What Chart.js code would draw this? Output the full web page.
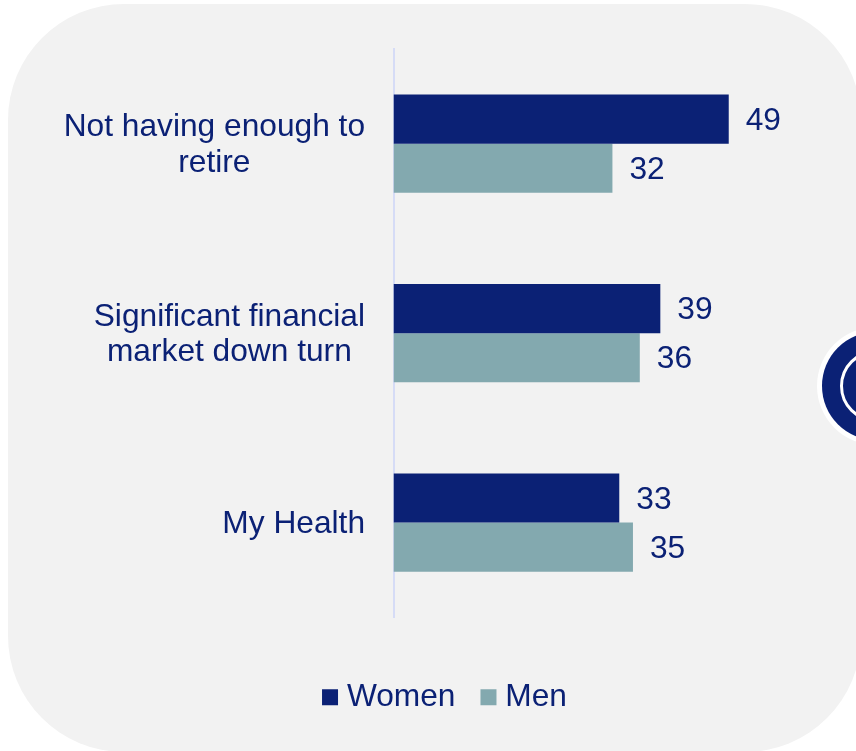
<!DOCTYPE html>
<html>
<head>
<meta charset="utf-8">
<style>
  html, body { margin: 0; padding: 0; background: #fff; overflow: hidden; width: 856px; height: 751px; }
  .card { position: absolute; left: 8px; top: 4px; width: 853px; height: 748px; background: #f2f2f2; border-radius: 116px; }
  .badge { position: absolute; left: 822px; top: 332px; width: 108px; height: 108px; box-sizing: border-box; border-radius: 50%; background: #0b2175; box-shadow: 0 0 0 5px #fff; }
  .badge::after { content: ""; position: absolute; left: 18px; top: 18px; width: 72px; height: 72px; box-sizing: border-box; border: 3px solid #fff; border-radius: 50%; }
  canvas { position: absolute; left: 0; top: 0; }
</style>
</head>
<body>
<div class="card"></div>
<div class="badge"></div>
<canvas id="myChart" width="856" height="751"></canvas>
<script src="https://cdn.jsdelivr.net/npm/chart.js@4"></script>
<script>
const categories = [
  ["Not having enough to", "retire"],
  ["Significant financial", "market down turn"],
  ["My Health"],
];
const women = [49, 39, 33];
const men = [32, 36, 35];

const navy = "#0b2175";
const teal = "#83a9af";
const labelFont = "31.7px 'Liberation Sans', Arial, sans-serif";

// category text is centred line by line, which the tick renderer can't do
const categoryLabels = {
  id: "categoryLabels",
  afterDraw(chart) {
    const { ctx, scales } = chart;
    ctx.save();
    ctx.font = labelFont;
    ctx.fillStyle = navy;
    ctx.textAlign = "center";
    ctx.textBaseline = "middle";
    categories.forEach((lines, i) => {
      const widest = Math.max(...lines.map((l) => ctx.measureText(l).width));
      const x = 365 - widest / 2;
      const y = scales.y.getPixelForTick(i);
      lines.forEach((line, n) => {
        ctx.fillText(line, x, y + (n - (lines.length - 1) / 2) * 35.5 + 1.5);
      });
    });
    ctx.restore();
  },
};

const valueLabels = {
  id: "valueLabels",
  afterDatasetsDraw(chart) {
    const { ctx } = chart;
    ctx.save();
    ctx.font = labelFont;
    ctx.fillStyle = navy;
    ctx.textAlign = "left";
    ctx.textBaseline = "middle";
    chart.data.datasets.forEach((dataset, d) => {
      chart.getDatasetMeta(d).data.forEach((bar, i) => {
        ctx.fillText(dataset.data[i], bar.x + 17, bar.y + 2);
      });
    });
    ctx.restore();
  },
};

new Chart(document.getElementById("myChart"), {
  type: "bar",
  data: {
    labels: categories,
    datasets: [
      { label: "Women", data: women, backgroundColor: navy },
      { label: "Men", data: men, backgroundColor: teal },
    ],
  },
  plugins: [categoryLabels, valueLabels],
  options: {
    indexAxis: "y",
    responsive: false,
    animation: false,
    barPercentage: 1,
    categoryPercentage: 0.5185,
    // left/right padding also centres the legend under the bars
    layout: { padding: { top: 49, right: 52, bottom: 28, left: 92 } },
    scales: {
      x: {
        min: 0,
        max: 60,
        grid: { display: false, drawTicks: false },
        border: { display: false },
        ticks: { display: false },
        // empty band between the bars and the legend
        afterFit(scale) {
          scale.height = 32;
        },
      },
      y: {
        grid: { display: false, drawTicks: false },
        border: { color: "#d6dcf6", width: 2 },
        ticks: { display: false },
        afterFit(scale) {
          scale.width = 301.5;
        },
      },
    },
    plugins: {
      tooltip: { enabled: false },
      legend: {
        position: "bottom",
        labels: {
          usePointStyle: true,
          pointStyle: "rect",
          boxWidth: 2,
          boxHeight: 16,
          padding: 32,
          color: navy,
          font: { family: "'Liberation Sans', Arial, sans-serif", size: 31.7 },
        },
      },
    },
  },
});
</script>
</body>
</html>
